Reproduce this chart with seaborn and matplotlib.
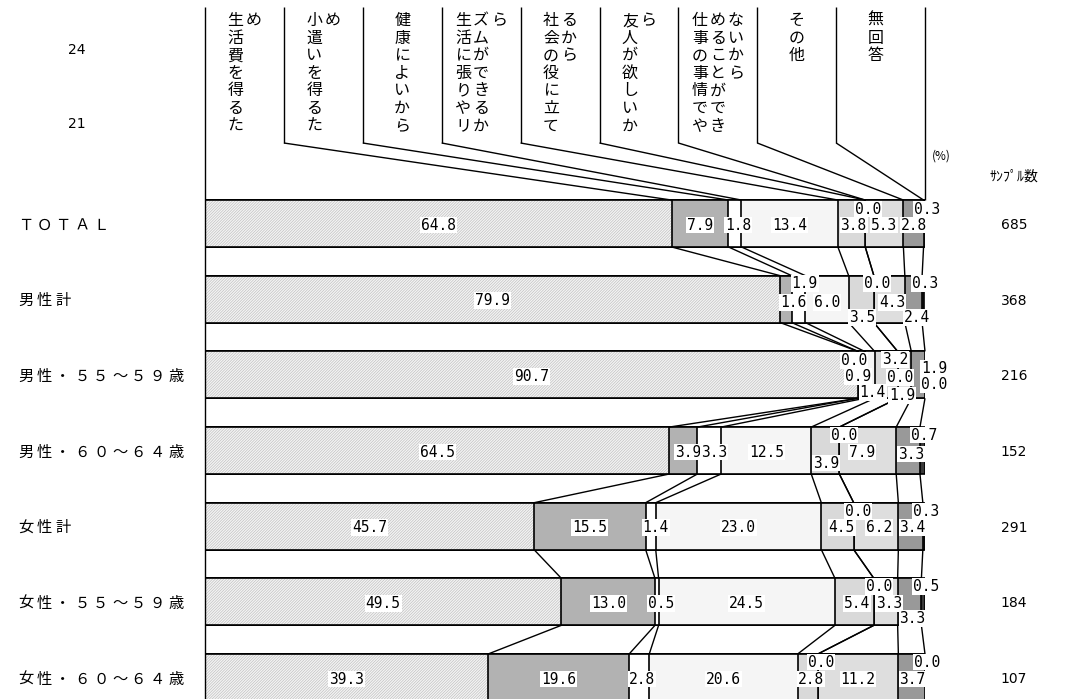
import numpy as np
import pandas as pd
import matplotlib
matplotlib.use("Agg")
import matplotlib.pyplot as plt
import seaborn as sns

# ---------------- data ----------------
rows = ["ＴＯＴＡＬ", "男性計", "男性・５５～５９歳", "男性・６０～６４歳",
        "女性計", "女性・５５～５９歳", "女性・６０～６４歳"]
categories = ["生活費を得るため", "小遣いを得るため", "健康によいから",
              "生活に張りやリズムができるから", "社会の役に立てるから",
              "友人が欲しいから", "仕事の事情でやめることができないから",
              "その他", "無回答"]
v_living  = [64.8, 79.9, 90.7, 64.5, 45.7, 49.5, 39.3]
v_pocket  = [7.9, 1.6, 0.0, 3.9, 15.5, 13.0, 19.6]
v_health  = [1.8, 1.9, 0.9, 3.3, 1.4, 0.5, 2.8]
v_rhythm  = [13.4, 6.0, 1.4, 12.5, 23.0, 24.5, 20.6]
v_society = [3.8, 3.5, 3.2, 3.9, 4.5, 5.4, 2.8]
v_friends = [0.0, 0.0, 0.0, 0.0, 0.0, 0.0, 0.0]
v_work    = [5.3, 4.3, 1.9, 7.9, 6.2, 3.3, 11.2]
v_other   = [2.8, 2.4, 1.9, 3.3, 3.4, 3.3, 3.7]
v_noans   = [0.3, 0.3, 0.0, 0.7, 0.3, 0.5, 0.0]
sample_n  = [685, 368, 216, 152, 291, 184, 107]
side_numbers = ["24", "21"]

# ---------------- style / layout ----------------
seg_colors = ["white", "#b2b2b2", "white", "#f5f5f5", "#d9d9d9",
              "#cfcfcf", "#dedede", "#999999", "#3a3a3a"]
# label nudges in pixels (dx, dy) per row / category
lab_dy = [[0, 0, 0, 0, 0, -16, 0, 0, -16],
          [0, 2, -17, 2, 17, -17, 2, 17, -17],
          [0, -16, 0, 16, -17, 1, 19, -8, 8],
          [0, 0, 0, 0, 11, -17, 0, 2, -17],
          [0, 0, 0, 0, 0, -16, 0, 0, -16],
          [0, 0, 0, 0, 0, -17, 0, 15, -17],
          [0, 0, 0, 0, 0, -17, 0, 0, -17]]
lab_dx = [[0, 0, 3, 0, 2, 3, 0, 1, 2],
          [0, 7, 6, 0, 1, 3, 3, 4, 2],
          [0, -4, -3, 3, 9, 2, -2, 16, 9],
          [0, 5, 5, 0, 1, 5, -6, 3, 2],
          [0, 0, 5, 0, 4, 4, 3, 2, 2],
          [0, 0, 4, 0, 3, 5, 3, 3, 3],
          [0, 0, 3, 0, 3, 3, 0, 1, 2]]

W, H = 1068, 699
X0, X100 = 205, 925
PXPCT = (X100 - X0) / 100.0
ROW0, PITCH = 223.5, 75.67
BAR_W = 0.62

def X(px):
    return (px - X0) / PXPCT

def Y(py):
    return (py - ROW0) / PITCH

sns.set_theme(style="white")
plt.rcParams["font.family"] = ["Noto Sans CJK JP", "DejaVu Sans"]
plt.rcParams["text.color"] = "black"
plt.rcParams["hatch.linewidth"] = 0.45

fig = plt.figure(figsize=(W / 100, H / 100), dpi=100)
ax = fig.add_axes([X0 / W, 0, (X100 - X0) / W, 1])

vals = np.array([v_living, v_pocket, v_health, v_rhythm, v_society,
                 v_friends, v_work, v_other, v_noans]).T  # rows x cats
df = pd.DataFrame(vals, columns=categories)
df.insert(0, "row", rows)
cum = df[categories].cumsum(axis=1)

# stacked bars: draw cumulative totals from the right-most segment backwards
for k in range(len(categories) - 1, 0, -1):
    sns.barplot(x=cum[categories[k]].values, y=df["row"], order=rows,
                orient="h", color=seg_colors[k], saturation=1,
                edgecolor="black", linewidth=1.2, width=BAR_W,
                errorbar=None, ax=ax)
sns.barplot(x=cum[categories[0]].values, y=df["row"], order=rows,
            orient="h", color="#f4f4f4", saturation=1, hatch="////////////",
            edgecolor="#bdbdbd", linewidth=0, width=BAR_W,
            errorbar=None, ax=ax)
sns.barplot(x=cum[categories[0]].values, y=df["row"], order=rows,
            orient="h", fill=False, edgecolor="black", linewidth=1.2,
            width=BAR_W, errorbar=None, ax=ax)

ax.set_xlim(0, 100)
ax.set_ylim(Y(H), Y(0))
ax.set_xlabel("")
ax.set_ylabel("")
ax.set_xticks([])
ax.set_yticks([])
for s in ax.spines.values():
    s.set_visible(False)

lk = dict(color="black", lw=1.0, clip_on=False, solid_capstyle="butt")

# connector lines between consecutive bars
cv = cum.values
for r in range(len(rows) - 1):
    for k in range(len(categories) - 1):
        ax.plot([cv[r, k], cv[r + 1, k]],
                [r + BAR_W / 2, r + 1 - BAR_W / 2], **lk)

# header dividers and leaders
col_w = 78.9
div_top, div_bot = 7, 143
ax.plot([0, 0], [Y(div_top), Y(H)], **lk)
for k in range(1, len(categories)):
    xd = X(X0 + col_w * k)
    ax.plot([xd, xd], [Y(div_top), Y(div_bot)], **lk)
    ax.plot([xd, cv[0, k - 1]], [Y(div_bot), -BAR_W / 2], **lk)
ax.plot([100, 100], [Y(div_top), -BAR_W / 2], **lk)

# vertical header text (columns of 7 chars, read left to right)
hdr_font = 11.5
for k, name in enumerate(categories):
    cols = [name[i:i + 7] for i in range(0, len(name), 7)]
    cx = X0 + col_w * k + col_w / 2
    ncol = len(cols)
    for j, colstr in enumerate(cols):
        xx = cx + (j - (ncol - 1) / 2) * 18
        for i, ch in enumerate(colstr):
            ax.text(X(xx), Y(20.5 + 17.6 * i), ch, ha="center", va="center",
                    fontsize=hdr_font, color="black")

# row labels (fixed pitch characters)
for r, lab in enumerate(rows):
    for i, ch in enumerate(lab):
        ax.text(X(18 + 18.8 * i + 7.5), r + 0.02, ch, ha="center", va="center",
                fontsize=11, color="black")

# sample sizes
ax.text(X(1014), Y(177), "ｻﾝﾌﾟﾙ数", ha="center", va="center", fontsize=10)
ax.text(X(941), Y(156), "(%)", ha="center", va="center", fontsize=8.5)
for r, n in enumerate(sample_n):
    ax.text(X(1014), r + 0.02, str(n), ha="center", va="center",
            fontsize=10, family="DejaVu Sans")

ax.text(X(77), Y(50), side_numbers[0], ha="center", va="center",
        fontsize=10, family="DejaVu Sans")
ax.text(X(77), Y(124), side_numbers[1], ha="center", va="center",
        fontsize=10, family="DejaVu Sans")

# value labels
for r in range(len(rows)):
    for k in range(len(categories)):
        v = vals[r, k]
        left = cv[r, k] - v
        xc = left + v / 2 + lab_dx[r][k] / PXPCT
        yc = r + 0.02 + lab_dy[r][k] / PITCH
        ax.text(xc, yc, f"{v:.1f}", ha="center", va="center",
                fontsize=10.5, family="DejaVu Sans Mono", color="black",
                bbox=dict(facecolor="white", edgecolor="none", pad=0.6))

fig.savefig("out.png", dpi=100)
